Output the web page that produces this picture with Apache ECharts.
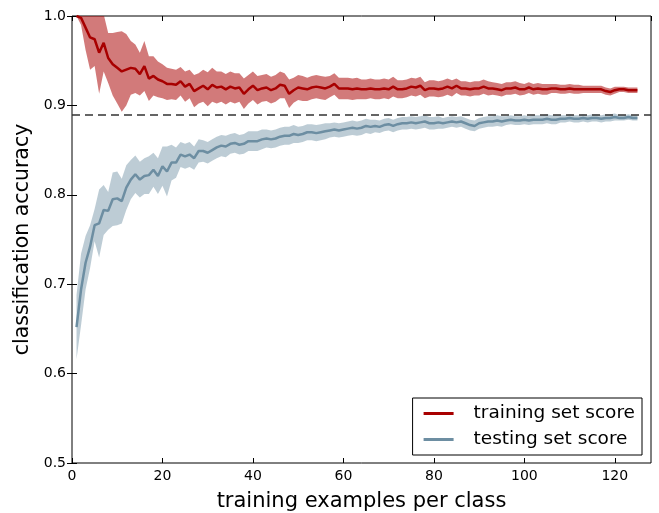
<!DOCTYPE html>
<html>
<head>
<meta charset="utf-8">
<script src="https://cdn.jsdelivr.net/npm/echarts@6/dist/echarts.min.js"></script>
<style>
html, body { margin: 0; padding: 0; background: #fff; }
#chart { width: 659px; height: 513px; }
</style>
</head>
<body>
<div id="chart"></div>
<script>
//training examples per class
var sizes = [1,2,3,4,5,6,7,8,9,10,11,12,13,14,15,16,17,18,19,20,
	21,22,23,24,25,26,27,28,29,30,31,32,33,34,35,36,37,38,39,40,
	41,42,43,44,45,46,47,48,49,50,51,52,53,54,55,56,57,58,59,60,
	61,62,63,64,65,66,67,68,69,70,71,72,73,74,75,76,77,78,79,80,
	81,82,83,84,85,86,87,88,89,90,91,92,93,94,95,96,97,98,99,100,
	101,102,103,104,105,106,107,108,109,110,111,112,113,114,115,116,117,118,119,120,
	121,122,123,124,125];

//training set score mean / std
var trainMean = [1.000,0.998,0.987,0.976,0.974,0.959,0.970,0.953,0.946,0.942,0.938,0.940,0.942,0.941,0.935,0.944,0.930,0.933,0.929,0.927,
	0.924,0.924,0.923,0.927,0.921,0.924,0.916,0.919,0.922,0.918,0.923,0.920,0.921,0.918,0.921,0.919,0.920,0.913,0.918,0.922,
	0.917,0.919,0.920,0.917,0.919,0.923,0.922,0.913,0.917,0.920,0.919,0.918,0.920,0.921,0.920,0.919,0.921,0.924,0.919,0.919,
	0.919,0.918,0.919,0.918,0.918,0.919,0.918,0.918,0.919,0.918,0.921,0.918,0.918,0.919,0.921,0.920,0.922,0.917,0.919,0.919,
	0.918,0.919,0.921,0.919,0.922,0.919,0.919,0.918,0.919,0.919,0.921,0.919,0.919,0.918,0.917,0.919,0.919,0.920,0.918,0.918,
	0.920,0.918,0.919,0.918,0.918,0.919,0.919,0.918,0.918,0.919,0.918,0.918,0.918,0.918,0.918,0.918,0.918,0.916,0.915,0.917,
	0.918,0.918,0.917,0.917,0.917];
var trainStd = [0.000,0.008,0.025,0.036,0.030,0.046,0.032,0.028,0.035,0.040,0.045,0.040,0.030,0.027,0.024,0.028,0.025,0.022,0.020,0.019,
	0.018,0.017,0.017,0.016,0.017,0.016,0.018,0.017,0.018,0.019,0.019,0.018,0.017,0.017,0.017,0.017,0.016,0.017,0.016,0.016,
	0.016,0.015,0.015,0.015,0.015,0.015,0.014,0.016,0.014,0.014,0.014,0.013,0.013,0.013,0.013,0.013,0.012,0.012,0.012,0.012,
	0.012,0.012,0.012,0.011,0.011,0.011,0.011,0.011,0.011,0.011,0.011,0.010,0.010,0.010,0.010,0.010,0.010,0.009,0.009,0.009,
	0.009,0.009,0.009,0.009,0.008,0.008,0.008,0.008,0.008,0.008,0.008,0.008,0.007,0.007,0.007,0.007,0.007,0.007,0.007,0.006,
	0.006,0.006,0.006,0.006,0.006,0.005,0.005,0.005,0.005,0.005,0.005,0.005,0.004,0.004,0.004,0.004,0.004,0.004,0.004,0.004,
	0.003,0.003,0.003,0.003,0.003];

//testing set score mean / std
var testMean = [0.652,0.694,0.724,0.742,0.766,0.768,0.783,0.782,0.795,0.796,0.793,0.808,0.817,0.823,0.817,0.821,0.822,0.828,0.821,0.832,
	0.826,0.836,0.836,0.845,0.843,0.845,0.841,0.849,0.849,0.847,0.850,0.853,0.855,0.854,0.857,0.858,0.856,0.857,0.860,0.860,
	0.860,0.862,0.863,0.862,0.863,0.865,0.866,0.866,0.868,0.867,0.868,0.870,0.870,0.869,0.870,0.871,0.872,0.873,0.872,0.873,
	0.874,0.875,0.874,0.875,0.877,0.876,0.877,0.876,0.878,0.879,0.877,0.879,0.880,0.880,0.881,0.880,0.881,0.882,0.880,0.880,
	0.881,0.880,0.881,0.882,0.881,0.882,0.880,0.878,0.877,0.880,0.881,0.882,0.882,0.883,0.882,0.883,0.884,0.883,0.883,0.884,
	0.883,0.884,0.884,0.884,0.885,0.884,0.884,0.885,0.885,0.886,0.885,0.885,0.886,0.885,0.886,0.886,0.885,0.886,0.886,0.887,
	0.886,0.886,0.887,0.886,0.886];
var testStd = [0.036,0.040,0.030,0.024,0.018,0.038,0.028,0.021,0.030,0.030,0.025,0.025,0.022,0.021,0.020,0.020,0.021,0.019,0.020,0.022,
	0.028,0.020,0.017,0.014,0.014,0.014,0.013,0.013,0.012,0.012,0.012,0.012,0.012,0.012,0.011,0.011,0.011,0.011,0.011,0.011,
	0.011,0.011,0.010,0.010,0.010,0.010,0.010,0.010,0.010,0.009,0.009,0.009,0.009,0.009,0.009,0.009,0.008,0.008,0.008,0.008,
	0.008,0.008,0.008,0.008,0.008,0.008,0.007,0.007,0.007,0.007,0.007,0.007,0.007,0.007,0.007,0.007,0.007,0.007,0.007,0.007,
	0.007,0.006,0.006,0.006,0.006,0.006,0.006,0.006,0.006,0.006,0.006,0.006,0.006,0.006,0.006,0.005,0.005,0.005,0.005,0.005,
	0.005,0.005,0.005,0.005,0.005,0.005,0.005,0.004,0.004,0.004,0.004,0.004,0.004,0.004,0.004,0.004,0.004,0.004,0.004,0.004,
	0.003,0.003,0.003,0.003,0.003];

//dashed reference level
var baseline = 0.887;

var xTicks = { min: 0, max: 128, interval: 20 };
var yTicks = { min: 0.5, max: 1.0, interval: 0.1 };

var font = 'DejaVu Sans';
var trainColor = '#a80000',
	trainFill = 'rgba(168,0,0,0.52)',
	testColor = '#6d8ea2',
	testFill = 'rgba(109,142,162,0.45)';

function pairs(vals) {
	var out = [];
	for(var i = 0; i < sizes.length; i++) {
		out.push([sizes[i], vals[i]]);
	}
	return out;
}

//band rows: [x, mean - std, mean + std]
function bandRows(mean, std) {
	var out = [];
	for(var i = 0; i < mean.length; i++) {
		out.push([sizes[i], mean[i] - std[i], mean[i] + std[i]]);
	}
	return out;
}

//whole band drawn as one polygon, on the first item only
function bandSeries(rows, fill) {
	return {
		type: 'custom',
		silent: true,
		data: rows,
		encode: { x: 0, y: [1, 2] },
		z: 1,
		renderItem: function(params, api) {
			if(params.dataIndex !== 0) return null;
			var top = [], bottom = [];
			for(var i = 0; i < rows.length; i++) {
				top.push(api.coord([rows[i][0], rows[i][2]]));
				bottom.unshift(api.coord([rows[i][0], rows[i][1]]));
			}
			var cs = params.coordSys;
			return {
				type: 'polygon',
				shape: { points: top.concat(bottom) },
				style: { fill: fill, stroke: null },
				clipPath: {
					type: 'rect',
					shape: { x: cs.x, y: cs.y, width: cs.width, height: cs.height }
				}
			};
		}
	};
}

var chart = echarts.init(document.getElementById('chart'));
var tickStyle = { inside: true, length: 5, lineStyle: { color: '#000', width: 1 } };

chart.setOption({
	animation: false,
	backgroundColor: '#fff',
	grid: {
		left: 72, right: 8, top: 16, bottom: 50,
		outerBoundsMode: 'none',
		containLabel: false,
		show: true, borderColor: '#000', borderWidth: 1
	},
	legend: {
		orient: 'vertical',
		right: 17,
		bottom: 58,
		data: ['training set score', 'testing set score'],
		icon: 'rect',
		itemWidth: 30,
		itemHeight: 3,
		itemGap: 7,
		padding: [6, 7, 6, 11],
		borderColor: '#000',
		borderWidth: 1,
		backgroundColor: '#fff',
		textStyle: { fontFamily: font, fontSize: 18.5, color: '#000', padding: [0, 0, 0, 15] }
	},
	xAxis: [{
		type: 'value',
		min: xTicks.min, max: xTicks.max, interval: xTicks.interval,
		name: 'training examples per class',
		nameLocation: 'middle',
		nameGap: 28,
		nameTextStyle: { fontFamily: font, fontSize: 21, color: '#000' },
		axisLine: { show: false },
		axisTick: tickStyle,
		splitLine: { show: false },
		axisLabel: { fontFamily: font, fontSize: 14, color: '#000', margin: 6, showMaxLabel: false }
	}, {
		type: 'value', position: 'top',
		min: xTicks.min, max: xTicks.max, interval: xTicks.interval,
		axisLine: { show: false },
		axisTick: tickStyle,
		splitLine: { show: false },
		axisLabel: { show: false }
	}],
	yAxis: [{
		type: 'value',
		min: yTicks.min, max: yTicks.max, interval: yTicks.interval,
		name: 'classification accuracy',
		nameLocation: 'middle',
		nameGap: 27,
		nameTextStyle: { fontFamily: font, fontSize: 20.5, color: '#000' },
		axisLine: { show: false },
		axisTick: tickStyle,
		splitLine: { show: false },
		axisLabel: {
			fontFamily: font, fontSize: 14, color: '#000', margin: 6,
			formatter: function(v) { return v.toFixed(1); }
		}
	}, {
		type: 'value', position: 'right',
		min: yTicks.min, max: yTicks.max, interval: yTicks.interval,
		axisLine: { show: false },
		axisTick: tickStyle,
		splitLine: { show: false },
		axisLabel: { show: false }
	}],
	series: [
		bandSeries(bandRows(trainMean, trainStd), trainFill),
		bandSeries(bandRows(testMean, testStd), testFill),
		{
			name: 'training set score',
			type: 'line',
			data: pairs(trainMean),
			symbol: 'none',
			clip: true,
			lineStyle: { color: trainColor, width: 2.5 },
			itemStyle: { color: trainColor },
			z: 3
		},
		{
			name: 'testing set score',
			type: 'line',
			data: pairs(testMean),
			symbol: 'none',
			clip: true,
			lineStyle: { color: testColor, width: 2.5 },
			itemStyle: { color: testColor },
			z: 3,
			markLine: {
				silent: true,
				symbol: 'none',
				label: { show: false },
				lineStyle: { color: '#333', width: 1.5, type: [8, 5] },
				data: [{ yAxis: baseline }]
			}
		}
	]
});
</script>
</body>
</html>
